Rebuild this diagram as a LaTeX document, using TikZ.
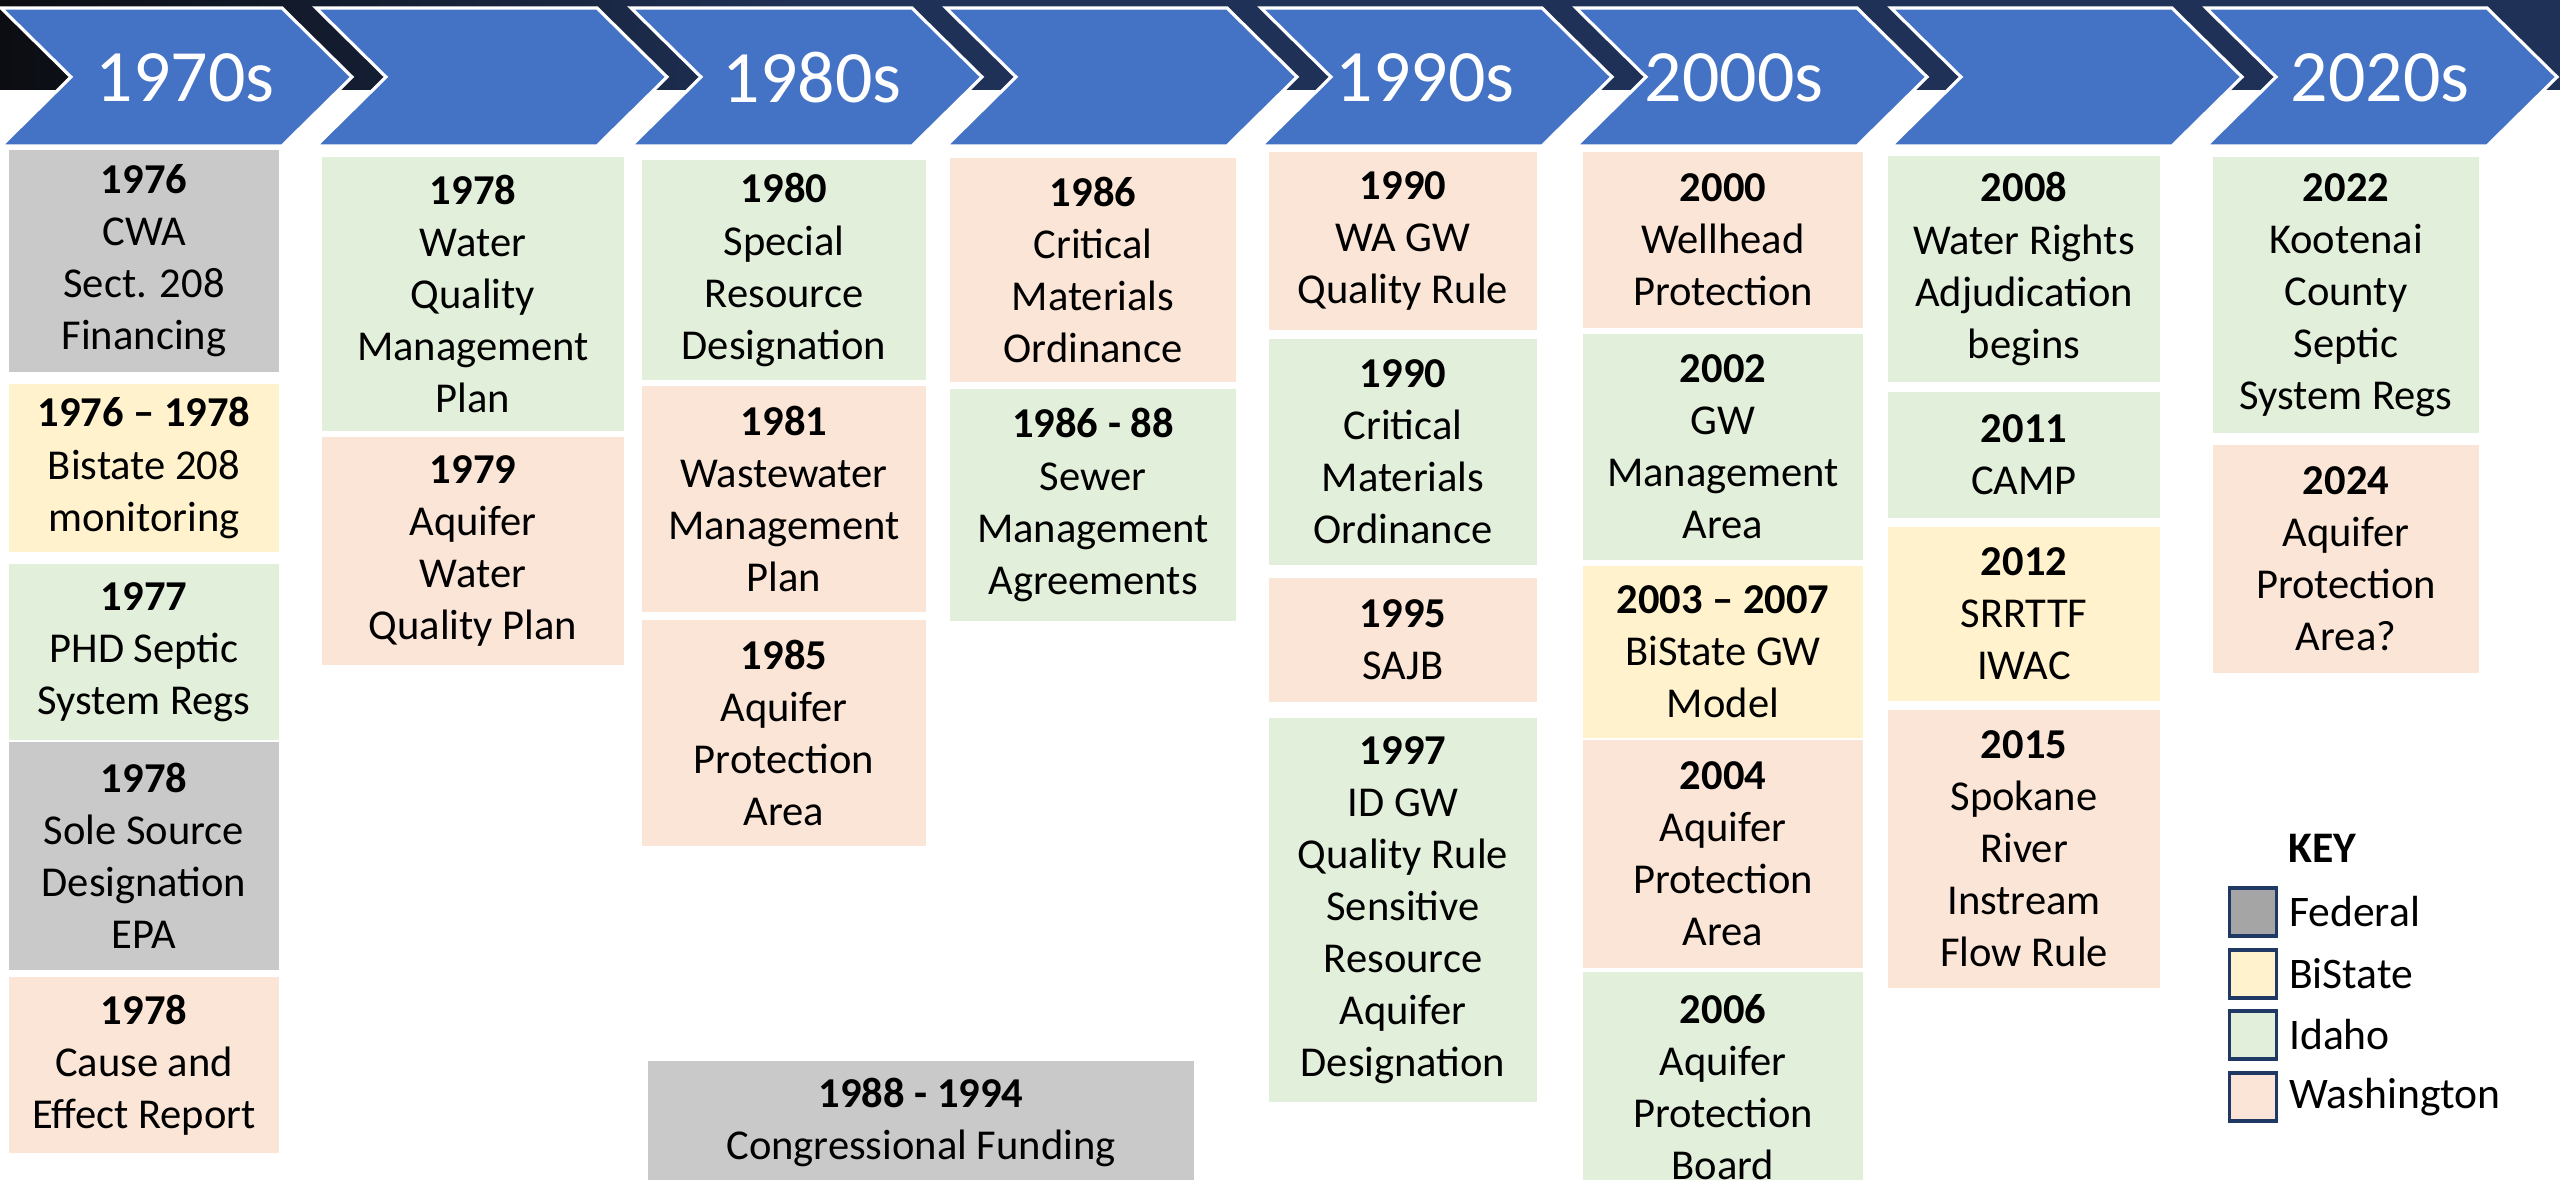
\documentclass[tikz,border=0pt]{standalone}
\usepackage{fontspec}
\setmainfont{Carlito}
\usetikzlibrary{positioning}

\definecolor{chevblue}{HTML}{4472C4}
\definecolor{bandleft}{HTML}{0B0D12}
\definecolor{bandright}{HTML}{1F3156}
\definecolor{fedgrey}{HTML}{C9C9C9}
\definecolor{keygrey}{HTML}{A5A5A5}
\definecolor{biyellow}{HTML}{FFF2CC}
\definecolor{idgreen}{HTML}{E2EFDA}
\definecolor{wapeach}{HTML}{FBE5D6}
\definecolor{keyline}{HTML}{203864}

\tikzset{
  event/.style={inner sep=0pt, align=center, font=\fontsize{12.1}{14.8}\selectfont},
  fedbox/.style={event, fill=fedgrey},
  bibox/.style={event, fill=biyellow},
  idbox/.style={event, fill=idgreen},
  wabox/.style={event, fill=wapeach},
  chevron/.style={fill=chevblue, draw=white, line width=0.9pt},
  decade/.style={text=white, inner sep=0pt, font=\fontsize{21}{25}\selectfont},
  swatch/.style={draw=keyline, line width=1.1pt, minimum width=0.47cm, minimum height=0.48cm, inner sep=0pt},
  keytext/.style={inner sep=0pt, font=\fontsize{12.4}{15}\selectfont},
}

\begin{document}
\begin{tikzpicture}[x=0.01cm, y=-0.01cm]
\useasboundingbox (0,0) rectangle (2560,1180);
% dark band behind the arrows
\shade[left color=bandleft, right color=bandright] (0,0) rectangle (800,90);
\fill[bandright] (800,0) rectangle (2560,90);
% decade arrows
\foreach \i/\lab/\xc in {0/1970s/185,1//490,2/1980s/812,3//1120,4/1990s/1425,5/2000s/1734,6//2060,7/2020s/2380} {
  \pgfmathsetmacro\xl{1+315*\i}
  \filldraw[chevron] (\xl,8) -- ++(281,0) -- ++(70,69) -- ++(-70,69) -- ++(-281,0) -- ++(70,-69) -- cycle;
  \node[decade] (dec\i) at (\xc,78) {\lab};
}

% 1970s
\node[fedbox, minimum width=2.70cm, minimum height=2.22cm] (cwa76) at (144,261) {\textbf{1976}\\CWA\\Sect. 208\\Financing};
\node[bibox, minimum width=2.70cm, minimum height=1.67cm] (bist76) at (144,468) {\textbf{1976 – 1978}\\Bistate 208\\monitoring};
\node[idbox, minimum width=2.70cm, minimum height=1.75cm] (phd77) at (144,652) {\textbf{1977}\\PHD Septic\\System Regs};
\node[fedbox, minimum width=2.70cm, minimum height=2.27cm] (ssd78) at (144,856) {\textbf{1978}\\Sole Source\\Designation\\EPA};
\node[wabox, minimum width=2.70cm, minimum height=1.76cm] (cer78) at (144,1065) {\textbf{1978}\\Cause and\\Effect Report};

\node[idbox, minimum width=3.02cm, minimum height=2.74cm] (wqmp78) at (473,294) {\textbf{1978}\\Water\\Quality\\Management\\Plan};
\node[wabox, minimum width=3.02cm, minimum height=2.27cm] (awqp79) at (473,551) {\textbf{1979}\\Aquifer\\Water\\Quality Plan};

% 1980s
\node[idbox, minimum width=2.84cm, minimum height=2.20cm] (srd80) at (784,270) {\textbf{1980}\\Special\\Resource\\Designation};
\node[wabox, minimum width=2.84cm, minimum height=2.25cm] (wmp81) at (784,499) {\textbf{1981}\\Wastewater\\Management\\Plan};
\node[wabox, minimum width=2.84cm, minimum height=2.25cm] (apa85) at (784,733) {\textbf{1985}\\Aquifer\\Protection\\Area};

\node[wabox, minimum width=2.86cm, minimum height=2.24cm] (cmo86) at (1093,270) {\textbf{1986}\\Critical\\Materials\\Ordinance};
\node[idbox, minimum width=2.86cm, minimum height=2.32cm] (sma86) at (1093,505) {\textbf{1986 - 88}\\Sewer\\Management\\Agreements};

\node[fedbox, minimum width=5.46cm, minimum height=1.22cm] (cf88) at (921,1122) {\textbf{1988 - 1994}\\Congressional Funding};

% 1990s
\node[wabox, minimum width=2.68cm, minimum height=1.77cm] (wagw90) at (1403,241) {\textbf{1990}\\WA GW\\Quality Rule};
\node[idbox, minimum width=2.68cm, minimum height=2.25cm] (cmo90) at (1403,452) {\textbf{1990}\\Critical\\Materials\\Ordinance};
\node[wabox, minimum width=2.68cm, minimum height=1.24cm] (sajb95) at (1403,640) {\textbf{1995}\\SAJB};
\node[idbox, minimum width=2.68cm, minimum height=3.84cm] (idgw97) at (1403,910) {\textbf{1997}\\ID GW\\Quality Rule\\Sensitive\\Resource\\Aquifer\\Designation};

% 2000s
\node[wabox, minimum width=2.79cm, minimum height=1.75cm] (wp00) at (1723,240) {\textbf{2000}\\Wellhead\\Protection};
\node[idbox, minimum width=2.79cm, minimum height=2.25cm] (gwma02) at (1723,447) {\textbf{2002}\\GW\\Management\\Area};
\node[bibox, minimum width=2.79cm, minimum height=1.71cm] (bsgw03) at (1723,652) {\textbf{2003 – 2007}\\BiState GW\\Model};
\node[wabox, minimum width=2.79cm, minimum height=2.27cm] (apa04) at (1723,854) {\textbf{2004}\\Aquifer\\Protection\\Area};
\node[idbox, minimum width=2.79cm, minimum height=2.30cm] (apb06) at (1723,1087) {\textbf{2006}\\Aquifer\\Protection\\Board};

\node[idbox, minimum width=2.71cm, minimum height=2.25cm] (wra08) at (2024,269) {\textbf{2008}\\Water Rights\\Adjudication\\begins};
\node[idbox, minimum width=2.71cm, minimum height=1.26cm] (camp11) at (2024,455) {\textbf{2011}\\CAMP};
\node[bibox, minimum width=2.71cm, minimum height=1.74cm] (srr12) at (2024,614) {\textbf{2012}\\SRRTTF\\IWAC};
\node[wabox, minimum width=2.71cm, minimum height=2.78cm] (sir15) at (2024,849) {\textbf{2015}\\Spokane\\River\\Instream\\Flow Rule};

% 2020s
\node[idbox, minimum width=2.66cm, minimum height=2.76cm] (kcss22) at (2346,295) {\textbf{2022}\\Kootenai\\County\\Septic\\System Regs};
\node[wabox, minimum width=2.66cm, minimum height=2.27cm] (apa24) at (2346,559) {\textbf{2024}\\Aquifer\\Protection\\Area?};

% key
\node[keytext, anchor=west, font=\fontsize{12.4}{15}\selectfont\bfseries] (keyhead) at (2288,848) {KEY};
\node[swatch, fill=keygrey] (swfed) at (2253,912) {};
\node[swatch, fill=biyellow] (swbi) at (2253,974) {};
\node[swatch, fill=idgreen] (swid) at (2253,1035) {};
\node[swatch, fill=wapeach] (swwa) at (2253,1097) {};
\node[keytext, right=0.1cm of swfed] (labfed) {Federal};
\node[keytext, right=0.1cm of swbi] (labbi) {BiState};
\node[keytext, right=0.1cm of swid] (labid) {Idaho};
\node[keytext, right=0.1cm of swwa] (labwa) {Washington};

\end{tikzpicture}
\end{document}
